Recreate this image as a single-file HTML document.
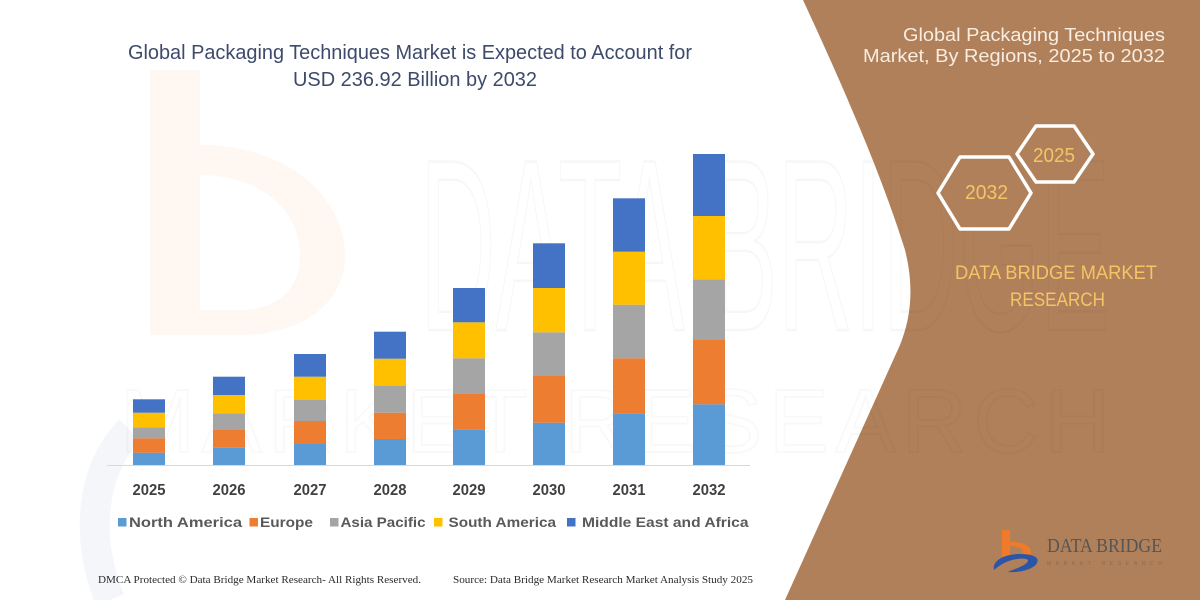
<!DOCTYPE html>
<html>
<head>
<meta charset="utf-8">
<style>
  html,body{margin:0;padding:0;background:#fff;}
  svg{display:block;}
</style>
</head>
<body>
<svg width="1200" height="600" viewBox="0 0 1200 600" xmlns="http://www.w3.org/2000/svg">
  <rect x="0" y="0" width="1200" height="600" fill="#ffffff"/>

  <!-- faint watermark logo (left) -->
  <path d="M150,70 L200,70 L200,145 C290,145 345,200 345,255 C345,305 300,335 240,335 L150,335 Z" fill="#fef7f2"/>
  <path d="M200,175 C260,175 300,210 300,255 C300,295 270,310 240,310 L200,310 Z" fill="#ffffff"/>
  <path d="M130,430 C90,470 85,540 110,600" fill="none" stroke="#f4f6fa" stroke-width="30"/>

  <!-- brown right panel -->
  <path d="M803,0 C840,80 880,170 905,250 C915,290 910,320 900,345 L785,600 L1200,600 L1200,0 Z" fill="#b0805a"/>

  <!-- faint watermark text -->
  <text x="420" y="330" font-family="Liberation Sans, sans-serif" font-size="245" fill="none" stroke="rgba(0,0,0,0.03)" stroke-width="2.5" textLength="690" lengthAdjust="spacingAndGlyphs">DATA BRIDGE</text>
  <text x="120" y="452" font-family="Liberation Sans, sans-serif" font-size="90" fill="none" stroke="rgba(0,0,0,0.022)" stroke-width="2" textLength="990" lengthAdjust="spacing">MARKET RESEARCH</text>

  <!-- chart title -->
  <text x="128" y="59" font-family="Liberation Sans, sans-serif" font-size="20" fill="#3d4a6b" textLength="564" lengthAdjust="spacingAndGlyphs">Global Packaging Techniques Market is Expected to Account for</text>
  <text x="293" y="86" font-family="Liberation Sans, sans-serif" font-size="20" fill="#3d4a6b" textLength="244" lengthAdjust="spacingAndGlyphs">USD 236.92 Billion by 2032</text>

  <!-- axis line -->
  <line x1="107" y1="465.5" x2="750" y2="465.5" stroke="#d9d9d9" stroke-width="1"/>

  <!-- bars -->
  <g>
    <!-- 2025 -->
    <rect x="133" y="452.7" width="32" height="12.3" fill="#5b9bd5"/>
    <rect x="133" y="438.3" width="32" height="14.4" fill="#ed7d31"/>
    <rect x="133" y="427.3" width="32" height="11" fill="#a5a5a5"/>
    <rect x="133" y="412.7" width="32" height="14.6" fill="#ffc000"/>
    <rect x="133" y="399.3" width="32" height="13.4" fill="#4472c4"/>
    <!-- 2026 -->
    <rect x="213" y="447.7" width="32" height="17.3" fill="#5b9bd5"/>
    <rect x="213" y="429.3" width="32" height="18.4" fill="#ed7d31"/>
    <rect x="213" y="413.3" width="32" height="16" fill="#a5a5a5"/>
    <rect x="213" y="395" width="32" height="18.3" fill="#ffc000"/>
    <rect x="213" y="376.7" width="32" height="18.3" fill="#4472c4"/>
    <!-- 2027 -->
    <rect x="294" y="444" width="32" height="21" fill="#5b9bd5"/>
    <rect x="294" y="421" width="32" height="23" fill="#ed7d31"/>
    <rect x="294" y="400" width="32" height="21" fill="#a5a5a5"/>
    <rect x="294" y="376.7" width="32" height="23.3" fill="#ffc000"/>
    <rect x="294" y="354" width="32" height="22.7" fill="#4472c4"/>
    <!-- 2028 -->
    <rect x="374" y="439" width="32" height="26" fill="#5b9bd5"/>
    <rect x="374" y="412.7" width="32" height="26.3" fill="#ed7d31"/>
    <rect x="374" y="386" width="32" height="26.7" fill="#a5a5a5"/>
    <rect x="374" y="358.7" width="32" height="27.3" fill="#ffc000"/>
    <rect x="374" y="331.7" width="32" height="27" fill="#4472c4"/>
    <!-- 2029 -->
    <rect x="453" y="429.3" width="32" height="35.7" fill="#5b9bd5"/>
    <rect x="453" y="393.3" width="32" height="36" fill="#ed7d31"/>
    <rect x="453" y="358.3" width="32" height="35" fill="#a5a5a5"/>
    <rect x="453" y="322.3" width="32" height="36" fill="#ffc000"/>
    <rect x="453" y="288" width="32" height="34.3" fill="#4472c4"/>
    <!-- 2030 -->
    <rect x="533" y="422.7" width="32" height="42.3" fill="#5b9bd5"/>
    <rect x="533" y="376" width="32" height="46.7" fill="#ed7d31"/>
    <rect x="533" y="332.3" width="32" height="43.7" fill="#a5a5a5"/>
    <rect x="533" y="288" width="32" height="44.3" fill="#ffc000"/>
    <rect x="533" y="243.3" width="32" height="44.7" fill="#4472c4"/>
    <!-- 2031 -->
    <rect x="613" y="413.3" width="32" height="51.7" fill="#5b9bd5"/>
    <rect x="613" y="358.3" width="32" height="55" fill="#ed7d31"/>
    <rect x="613" y="304.7" width="32" height="53.6" fill="#a5a5a5"/>
    <rect x="613" y="251.7" width="32" height="53" fill="#ffc000"/>
    <rect x="613" y="198.3" width="32" height="53.4" fill="#4472c4"/>
    <!-- 2032 -->
    <rect x="693" y="404.3" width="32" height="60.7" fill="#5b9bd5"/>
    <rect x="693" y="340" width="32" height="64.3" fill="#ed7d31"/>
    <rect x="693" y="279.3" width="32" height="60.7" fill="#a5a5a5"/>
    <rect x="693" y="216" width="32" height="63.3" fill="#ffc000"/>
    <rect x="693" y="154" width="32" height="62" fill="#4472c4"/>
  </g>

  <!-- year labels -->
  <g font-family="Liberation Sans, sans-serif" font-size="16" font-weight="bold" fill="#404040">
    <text x="132.5" y="495" textLength="33" lengthAdjust="spacingAndGlyphs">2025</text>
    <text x="212.5" y="495" textLength="33" lengthAdjust="spacingAndGlyphs">2026</text>
    <text x="293.5" y="495" textLength="33" lengthAdjust="spacingAndGlyphs">2027</text>
    <text x="373.5" y="495" textLength="33" lengthAdjust="spacingAndGlyphs">2028</text>
    <text x="452.5" y="495" textLength="33" lengthAdjust="spacingAndGlyphs">2029</text>
    <text x="532.5" y="495" textLength="33" lengthAdjust="spacingAndGlyphs">2030</text>
    <text x="612.5" y="495" textLength="33" lengthAdjust="spacingAndGlyphs">2031</text>
    <text x="692.5" y="495" textLength="33" lengthAdjust="spacingAndGlyphs">2032</text>
  </g>

  <!-- legend -->
  <g font-family="Liberation Sans, sans-serif" font-size="14" font-weight="bold" fill="#595959">
    <rect x="118" y="518" width="8.5" height="8.5" fill="#5b9bd5"/>
    <text x="129" y="527" textLength="113" lengthAdjust="spacingAndGlyphs">North America</text>
    <rect x="249.5" y="518" width="8.5" height="8.5" fill="#ed7d31"/>
    <text x="260" y="527" textLength="53" lengthAdjust="spacingAndGlyphs">Europe</text>
    <rect x="330" y="518" width="8.5" height="8.5" fill="#a5a5a5"/>
    <text x="340.5" y="527" textLength="85" lengthAdjust="spacingAndGlyphs">Asia Pacific</text>
    <rect x="434" y="518" width="8.5" height="8.5" fill="#ffc000"/>
    <text x="448.5" y="527" textLength="107.5" lengthAdjust="spacingAndGlyphs">South America</text>
    <rect x="567" y="518" width="8.5" height="8.5" fill="#4472c4"/>
    <text x="582" y="527" textLength="166.5" lengthAdjust="spacingAndGlyphs">Middle East and Africa</text>
  </g>

  <!-- footer -->
  <g font-family="Liberation Serif, serif" font-size="10.5" fill="#2a2a2a">
    <text x="98" y="583" textLength="323" lengthAdjust="spacingAndGlyphs">DMCA Protected © Data Bridge Market Research-  All Rights Reserved.</text>
    <text x="453" y="583" textLength="300" lengthAdjust="spacingAndGlyphs">Source: Data Bridge Market Research  Market Analysis Study 2025</text>
  </g>

  <!-- right panel title -->
  <g font-family="Liberation Sans, sans-serif" font-size="18" fill="#f8ede0">
    <text x="903" y="41" textLength="262" lengthAdjust="spacingAndGlyphs">Global Packaging Techniques</text>
    <text x="863" y="62" textLength="302" lengthAdjust="spacingAndGlyphs">Market, By Regions, 2025 to 2032</text>
  </g>

  <!-- hexagons -->
  <polygon points="1017,154 1036,126 1074,126 1093,154 1074,182 1036,182" fill="#b0805a" stroke="#ffffff" stroke-width="3.5" stroke-linejoin="round"/>
  <polygon points="938,193 960,157 1009,157 1031,193 1009,229 960,229" fill="#b0805a" stroke="#ffffff" stroke-width="3.5" stroke-linejoin="round"/>
  <g font-family="Liberation Sans, sans-serif" font-size="20" fill="#f4c466">
    <text x="1033" y="162" textLength="42" lengthAdjust="spacingAndGlyphs">2025</text>
    <text x="965" y="199" textLength="43" lengthAdjust="spacingAndGlyphs">2032</text>
  </g>

  <!-- DATA BRIDGE MARKET RESEARCH -->
  <g font-family="Liberation Sans, sans-serif" font-size="19" fill="#f4c466">
    <text x="955" y="279" textLength="202" lengthAdjust="spacingAndGlyphs">DATA BRIDGE MARKET</text>
    <text x="1010" y="306" textLength="95" lengthAdjust="spacingAndGlyphs">RESEARCH</text>
  </g>

  <!-- bottom-right logo -->
  <g>
    <path d="M1002,530 L1010,530 L1010,542 C1022,541 1031,546 1031,552 C1031,558 1022,560 1012,559 L1002,559 Z" fill="#f07a2a"/>
    <path d="M1010,546 C1018,546 1023,549 1023,552 C1023,555 1018,556 1012,556 L1010,556 Z" fill="#b0805a"/>
    <path d="M994,570 C992,560 1005,554 1020,554 C1032,554 1040,557 1037,563 C1034,569 1020,573 1008,572 C1014,569 1026,566 1028,561 C1029,558 1020,558 1012,560 C1004,562 999,566 994,570 Z" fill="#2c55a8"/>
    <text x="1047" y="552" font-family="Liberation Serif, serif" font-size="20" fill="#555555" textLength="115" lengthAdjust="spacingAndGlyphs">DATA BRIDGE</text>
    <line x1="1046" y1="555.5" x2="1163" y2="555.5" stroke="#d07a3a" stroke-width="1"/>
    <text x="1047" y="565" font-family="Liberation Sans, sans-serif" font-size="5" fill="#8a6a50" textLength="115" lengthAdjust="spacing">MARKET RESEARCH</text>
  </g>
</svg>
</body>
</html>
